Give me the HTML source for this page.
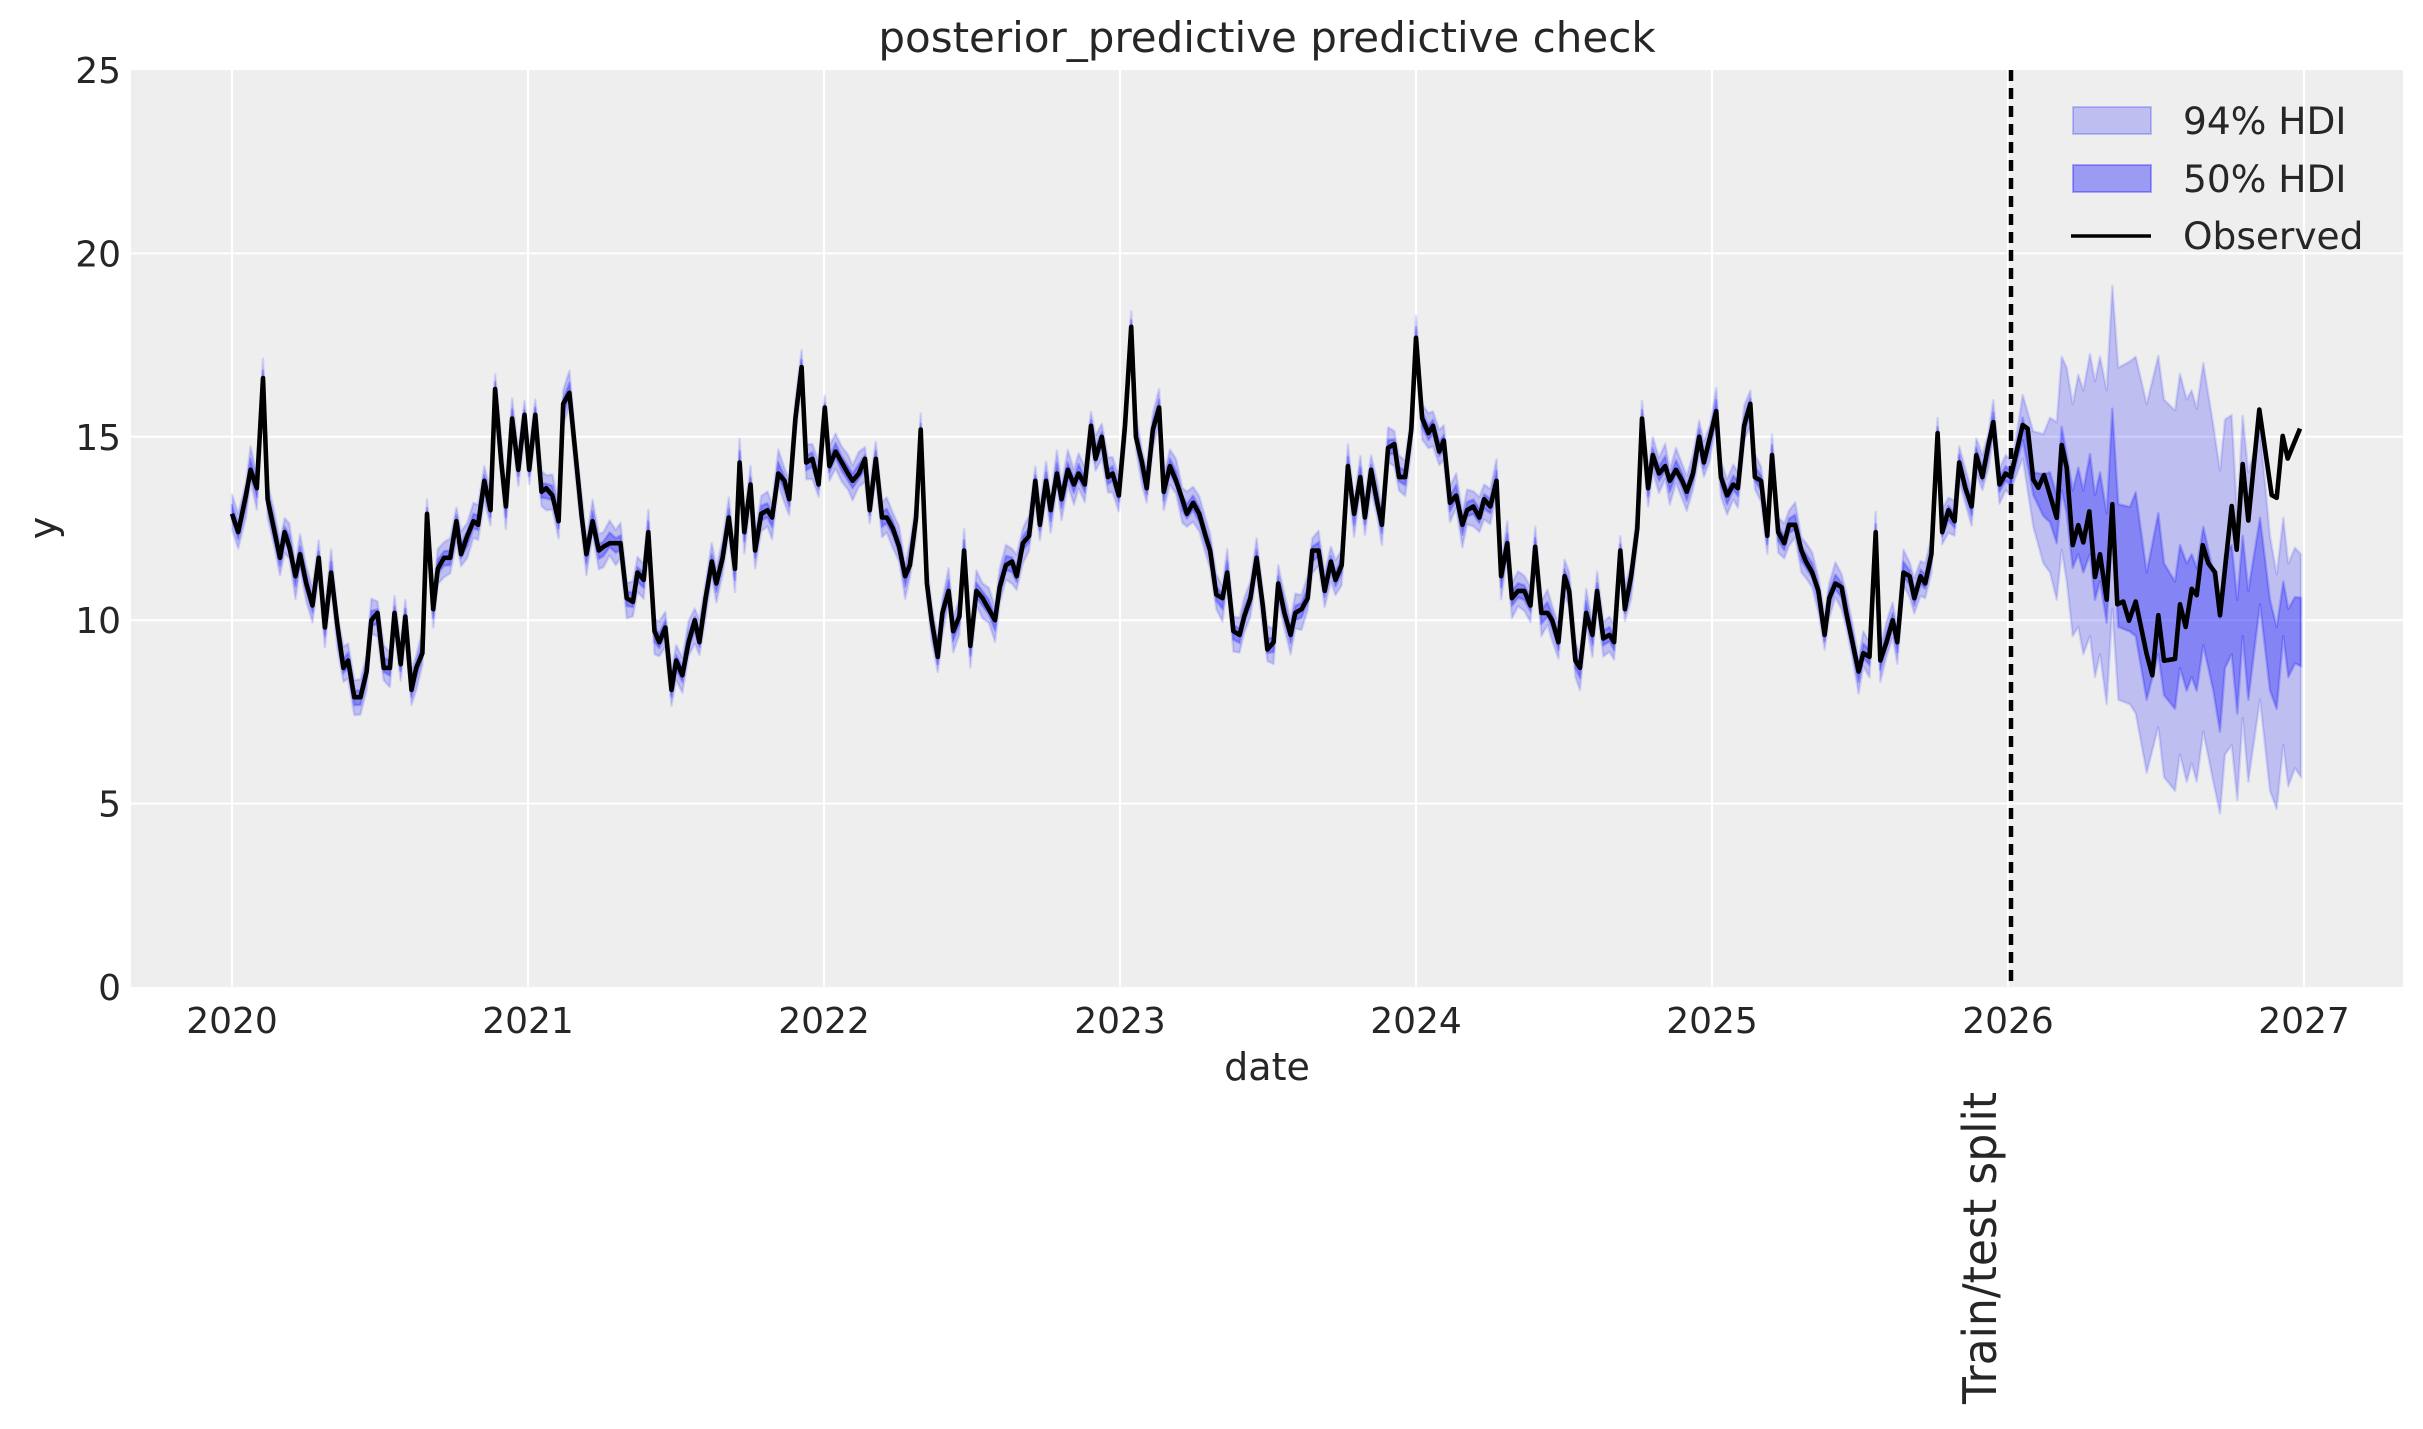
<!DOCTYPE html>
<html><head><meta charset="utf-8"><style>
html,body{margin:0;padding:0;background:#fff;}
svg text{font-family:"DejaVu Sans","Liberation Sans",sans-serif;fill:#262626;}
</style></head><body>
<svg id="s" xmlns="http://www.w3.org/2000/svg" width="2423" height="1424" viewBox="0 0 2423 1424">
<rect x="0" y="0" width="2423" height="1424" fill="#fff"/>
<rect x="131" y="70" width="2272" height="917" fill="#eeeeee"/>
<g id="grid" stroke="#fff" stroke-width="2"></g>
<g id="bands"></g>
<g id="obs"></g>
<line x1="2011" y1="70" x2="2011" y2="987" stroke="#000" stroke-width="4.5" stroke-dasharray="11,7"/>
<text x="1267" y="52" font-size="42" text-anchor="middle">posterior_predictive predictive check</text>
<text x="1267" y="1080" font-size="38" text-anchor="middle">date</text>
<text transform="translate(56,528) rotate(-90)" font-size="38" text-anchor="middle">y</text>
<text transform="translate(1996,1404) rotate(-90)" font-size="46" textLength="312" lengthAdjust="spacingAndGlyphs">Train/test split</text>
<g id="ticks" font-size="36"></g>
<g>
<rect x="2073" y="107" width="78" height="27" fill="rgba(0,0,255,0.2)" stroke="rgba(0,0,255,0.2)" stroke-width="2"/>
<rect x="2073" y="165" width="78" height="27" fill="rgba(0,0,255,0.35)" stroke="rgba(0,0,255,0.3)" stroke-width="2"/>
<line x1="2071" y1="236" x2="2151" y2="236" stroke="#000" stroke-width="3.5"/>
<text x="2183" y="134" font-size="37.5">94% HDI</text>
<text x="2183" y="192" font-size="37.5">50% HDI</text>
<text x="2183" y="249" font-size="37.5">Observed</text>
</g>
</svg>
<script>
var NS="http://www.w3.org/2000/svg";
function el(p,t,a){var e=document.createElementNS(NS,t);for(var k in a)e.setAttribute(k,a[k]);p.appendChild(e);return e;}
function Y(v){return 987-v*36.68;}
var g=document.getElementById('grid'),tk=document.getElementById('ticks');
for(var i=0;i<=7;i++){var x=232+i*296;el(g,'line',{x1:x,y1:70,x2:x,y2:987});var t=el(tk,'text',{x:x,y:1033,'text-anchor':'middle'});t.textContent=2020+i;}
for(var v=0;v<=25;v+=5){var y=Y(v);if(v>0&&v<25)el(g,'line',{x1:131,y1:y,x2:2403,y2:y});var t=el(tk,'text',{x:121,y:y+13,'text-anchor':'end'});t.textContent=v;}
var tr=[151,12.9,155,12.4,160,13.4,163,14.1,167,13.6,171,16.6,174,13.3,178,12.5,182,11.7,185,12.4,188,12.0,192,11.2,195,11.8,199,11.0,203,10.4,207,11.7,211,9.8,215,11.3,219,9.9,223,8.7,226,8.9,230,7.9,234,7.9,238,8.6,241,10.0,245,10.2,249,8.7,253,8.7,256,10.2,260,8.8,263,10.1,267,8.1,270,8.7,274,9.1,277,12.9,281,10.3,284,11.4,288,11.7,292,11.7,296,12.7,299,11.8,303,12.3,307,12.7,310,12.6,314,13.8,318,13.0,321,16.3,325,14.3,328,13.1,332,15.5,336,14.1,340,15.6,343,14.1,347,15.6,351,13.5,354,13.6,358,13.4,362,12.7,365,15.9,369,16.2,373,14.5,377,12.8,380,11.8,384,12.7,388,11.9,391,12.0,395,12.1,399,12.1,402,12.1,406,10.6,410,10.5,413,11.3,417,11.1,420,12.4,424,9.7,427,9.4,431,9.8,435,8.1,438,8.9,442,8.5,446,9.4,450,10.0,453,9.4,457,10.6,461,11.6,464,11.0,468,11.7,472,12.8,476,11.4,479,14.3,482,12.4,486,13.7,489,11.9,493,12.9,497,13.0,500,12.8,504,14.0,508,13.8,511,13.3,515,15.5,519,16.9,522,14.3,526,14.4,530,13.7,534,15.8,537,14.2,541,14.6,545,14.3,549,14.0,552,13.8,556,14.0,560,14.4,563,13.0,567,14.4,571,12.8,574,12.8,578,12.5,582,12.0,586,11.2,589,11.5,593,12.8,596,15.2,600,11.0,603,10.0,607,9.0,610,10.2,614,10.8,617,9.7,621,10.1,624,11.9,628,9.3,632,10.8,636,10.6,640,10.3,644,10.0,647,10.9,651,11.5,655,11.6,658,11.2,662,12.1,666,12.3,670,13.8,673,12.6,677,13.8,680,13.0,684,14.0,687,13.3,691,14.1,695,13.7,698,14.0,702,13.7,706,15.3,709,14.4,713,15.0,717,13.9,720,14.0,724,13.4,728,15.3,732,18.0,735,15.0,739,14.3,742,13.6,746,15.2,750,15.8,753,13.5,757,14.2,761,13.8,765,13.3,768,12.9,772,13.2,776,12.9,780,12.3,783,11.9,787,10.7,791,10.6,794,11.3,798,9.7,802,9.6,805,10.1,809,10.6,813,11.7,817,10.4,820,9.2,824,9.4,827,11.0,831,10.2,835,9.6,838,10.2,842,10.3,846,10.6,849,11.9,853,11.9,857,10.8,861,11.6,864,11.1,868,11.5,872,14.2,876,12.9,880,13.9,883,12.8,887,14.1,891,13.2,894,12.6,898,14.7,902,14.8,905,13.9,909,13.9,913,15.2,916,17.7,920,15.5,924,15.1,927,15.3,931,14.6,934,14.9,938,13.2,942,13.4,946,12.6,949,13.0,953,13.1,957,12.8,960,13.3,964,13.1,968,13.8,971,11.2,975,12.1,978,10.6,982,10.8,986,10.8,990,10.4,993,12.0,997,10.2,1001,10.2,1004,10.0,1008,9.4,1012,11.2,1015,10.8,1019,8.9,1022,8.7,1026,10.2,1030,9.6,1033,10.8,1037,9.5,1041,9.6,1044,9.4,1048,11.9,1051,10.3,1055,11.2,1059,12.5,1062,15.5,1066,13.6,1069,14.5,1073,14.0,1077,14.2,1080,13.8,1084,14.1,1088,13.8,1091,13.5,1095,14.0,1099,15.0,1102,14.3,1106,15.0,1110,15.7,1113,13.9,1117,13.4,1121,13.7,1124,13.6,1128,15.3,1132,15.9,1135,13.9,1139,13.8,1143,12.3,1146,14.5,1150,12.4,1154,12.1,1157,12.6,1161,12.6,1165,11.9,1168,11.6,1172,11.3,1176,10.8,1180,9.6,1183,10.6,1187,11.0,1191,10.9,1194,10.2,1198,9.4,1202,8.6,1205,9.1,1209,9.0,1213,12.4,1216,8.9,1220,9.4,1224,10.0,1227,9.4,1231,11.3,1235,11.2,1238,10.6,1242,11.2,1245,11.0,1249,11.8,1253,15.1,1256,12.4,1260,13.0,1264,12.7,1267,14.3,1271,13.6,1275,13.1,1278,14.5,1282,13.9,1286,14.8,1289,15.4,1293,13.7,1297,14.0,1300.5,13.9];
var pts=[];for(var i=0;i<tr.length;i+=2)pts.push([232+(tr[i]-151)*1.5477,tr[i+1]]);
function zc(a){var r=[];for(var i=0;i<a.length;i+=2)r.push([1900+a[i]/3,15-(a[i+1]-481)/40.3]);return r;}
var te=zc([332,525,368,468,383,472,400,528,415,537,432,523,450,545,470,570,485,490,500,515,518,600,535,578,550,597,568,563,585,635,600,610,620,660,637,555,652,665,670,662,687,683,707,662,740,720,757,743,775,677,792,727,825,725,840,665,857,690,875,648,890,655,908,600,925,620,945,630,960,677,995,557,1010,605,1028,511,1045,573,1078,451,1115,545,1130,548,1148,480,1163,505,1200,472]);
var u94=zc([332,520,368,435,400,475,430,478,450,460,470,465,485,393,500,405,518,445,535,413,550,430,570,390,585,420,600,393,620,430,637,315,655,405,690,398,707,393,740,445,775,392,792,440,825,452,840,412,860,440,875,430,890,450,910,400,940,468,960,518,975,462,995,457,1012,570,1028,458,1045,520,1080,473,1110,590,1130,632,1150,570,1165,620,1185,603,1203,610]);
var l94=zc([332,540,368,505,400,580,430,620,450,630,470,660,485,605,500,640,518,700,535,690,550,720,570,700,585,745,600,720,620,775,637,670,655,770,690,775,707,785,740,850,775,800,792,855,825,870,840,830,860,860,875,840,890,860,910,805,940,860,960,895,975,830,995,820,1012,880,1028,790,1045,860,1080,770,1110,870,1130,890,1150,820,1165,865,1185,845,1203,855]);
var u50=zc([332,525,368,460,400,520,430,522,450,520,470,545,485,470,500,500,518,540,535,515,550,540,570,500,585,545,600,520,620,565,637,450,655,555,690,558,707,542,740,630,775,565,792,620,825,640,840,600,860,620,875,610,890,625,910,580,940,630,960,680,975,610,995,600,1012,660,1028,590,1045,650,1080,570,1110,660,1130,690,1150,640,1165,670,1185,657,1203,658]);
var l50=zc([332,535,368,485,400,545,430,568,450,575,470,598,485,540,500,565,518,625,535,610,550,630,570,610,585,660,600,640,620,685,637,575,655,690,690,695,707,700,740,770,775,720,792,765,825,780,840,735,860,760,875,745,890,760,910,710,940,760,960,805,975,735,995,720,1012,785,1028,700,1045,770,1080,665,1110,760,1130,780,1150,700,1165,745,1185,730,1203,733]);
var tu94=[],tl94=[],tu50=[],tl50=[];
for(var i=0;i<pts.length;i++){var n=Math.sin(i*2.7)*0.12,m=Math.cos(i*1.9)*0.1;var x=pts[i][0],v=pts[i][1]+m*0.5;
tu94.push([x,v+0.48+n]);tl94.push([x,v-0.48+n]);tu50.push([x,v+0.2+n*0.5]);tl50.push([x,v-0.2+n*0.5]);}
function band(u,l,fill,st){var d='M';u.forEach(function(p,i){d+=(i?'L':'')+p[0].toFixed(1)+','+Y(p[1]).toFixed(1);});for(var i=l.length-1;i>=0;i--)d+='L'+l[i][0].toFixed(1)+','+Y(l[i][1]).toFixed(1);d+='Z';el(document.getElementById('bands'),'path',{d:d,fill:fill,stroke:st,'stroke-width':2.5,'stroke-linejoin':'round'});}
band(tu94,tl94,'rgba(0,0,255,0.2)','rgba(0,0,255,0.12)');
band(u94,l94,'rgba(0,0,255,0.2)','rgba(0,0,255,0.12)');
band(tu50,tl50,'rgba(0,0,255,0.3)','rgba(0,0,255,0.2)');
band(u50,l50,'rgba(0,0,255,0.3)','rgba(0,0,255,0.2)');
var all=pts.concat(te),d='M';all.forEach(function(p,i){d+=(i?'L':'')+p[0].toFixed(1)+','+Y(p[1]).toFixed(1);});
el(document.getElementById('obs'),'path',{d:d,fill:'none',stroke:'#000','stroke-width':4.6,'stroke-linejoin':'round'});
</script>
</body></html>
